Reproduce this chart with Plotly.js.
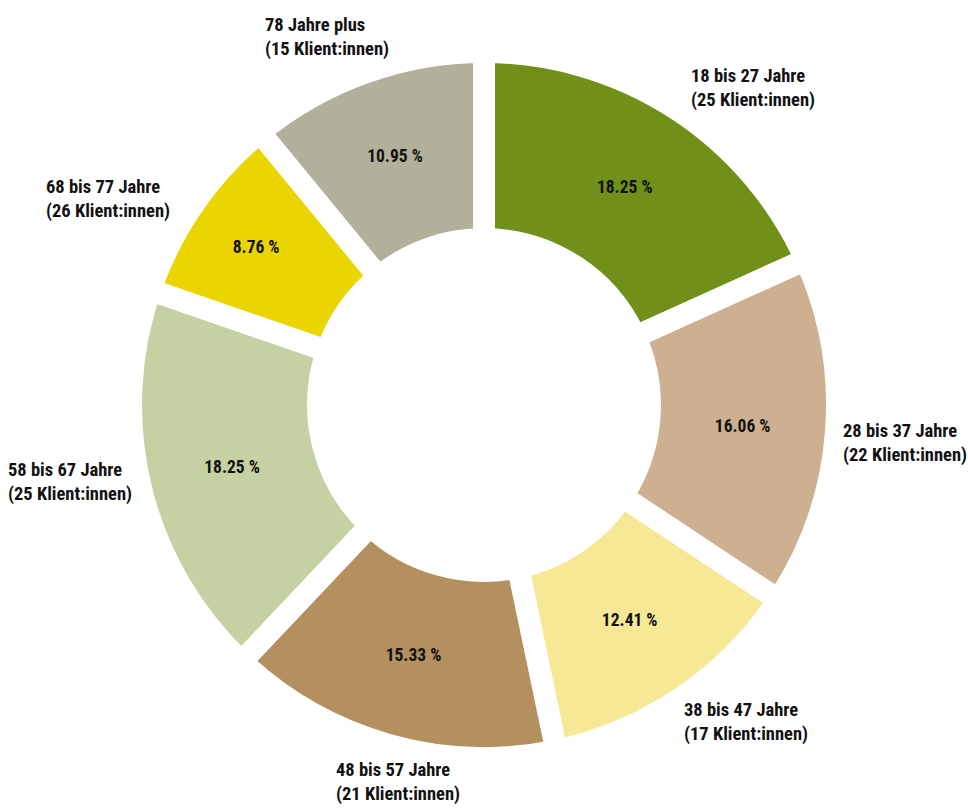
<!DOCTYPE html>
<html><head><meta charset="utf-8">
<script src="https://cdn.plot.ly/plotly-3.0.1.min.js"></script>
<style>html,body{margin:0;padding:0;background:#fff;}#chart{width:968px;height:809px;}
#chart svg text{font-stretch:condensed;}</style>
</head><body><div id="chart"></div>
<script>
const categories = ["18 bis 27 Jahre","28 bis 37 Jahre","38 bis 47 Jahre","48 bis 57 Jahre","58 bis 67 Jahre","68 bis 77 Jahre","78 Jahre plus"];
const clientLabels = ["(25 Klient:innen)","(22 Klient:innen)","(17 Klient:innen)","(21 Klient:innen)","(25 Klient:innen)","(26 Klient:innen)","(15 Klient:innen)"];
const values = [25,22,17,21,25,12,15];
const colors = ["#71901a","#cdb08f","#f7e896","#b48f5f","#c5d1a2","#ebd500","#b2b09a"];

// layout constants (pixels)
const W = 968, H = 809;
const CX = 484, CY = 405, R = 353, LABEL_R = 410;
// small per-label nudges (px) from the slice's mid-angle point
const labelNudge = [[47,27],[12,5],[32,-22],[25,-18],[-16,-21],[-39,28],[-19,18]];

const total = values.reduce((a,b)=>a+b,0);
const pctText = values.map(v => (v/total*100).toFixed(2) + " %");
const FONT = "'Roboto Condensed','DejaVu Sans Condensed','Liberation Sans Narrow','DejaVu Sans',sans-serif";
const domain = {x:[(CX-R)/W,(CX+R)/W], y:[1-(CY+R)/H,1-(CY-R)/H]};

const inner = {
  type:'pie', values:values, labels:categories, sort:false, direction:'clockwise', rotation:0,
  hole:0.47, domain:domain,
  marker:{colors:colors, line:{color:'#ffffff', width:22}},
  text:pctText, textinfo:'text', textposition:'inside', insidetextorientation:'horizontal',
  textfont:{family:FONT, size:17.5, color:'#111', weight:700},
  showlegend:false, hoverinfo:'skip'
};

const annotations = [];
let cum = 0;
values.forEach((v,i) => {
  const mid = (cum + v/2)/total*2*Math.PI;
  cum += v;
  const px = CX + LABEL_R*Math.sin(mid) + labelNudge[i][0];
  const py = CY - LABEL_R*Math.cos(mid) + labelNudge[i][1];
  annotations.push({
    x: px/W, y: 1-py/H, xref:'paper', yref:'paper', showarrow:false,
    xanchor:'center', yanchor:'middle', align:'left',
    text: categories[i] + "<br>" + clientLabels[i],
    font:{family:FONT, size:18.5, color:'#111', weight:700}
  });
});

Plotly.newPlot('chart',[inner],{
  width:W, height:H, margin:{l:0,r:0,t:0,b:0},
  paper_bgcolor:'#fff', showlegend:false, annotations:annotations
},{displayModeBar:false, staticPlot:true});
</script></body></html>
